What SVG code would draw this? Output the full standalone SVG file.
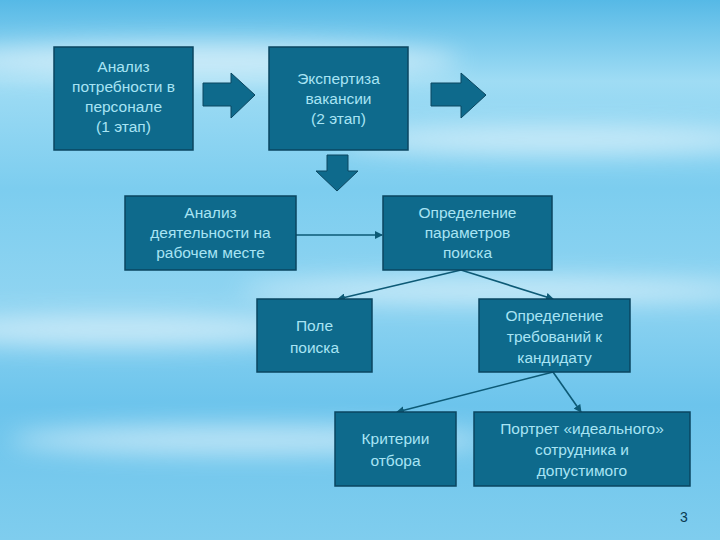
<svg xmlns="http://www.w3.org/2000/svg" width="720" height="540" viewBox="0 0 720 540">
<defs>
<linearGradient id="bg" x1="0" y1="0" x2="0" y2="1">
<stop offset="0" stop-color="#56b9e6"/><stop offset="0.15" stop-color="#9fdcf4"/><stop offset="0.35" stop-color="#7ccdef"/><stop offset="0.55" stop-color="#8fd4f1"/><stop offset="0.75" stop-color="#6cc4ec"/><stop offset="1" stop-color="#7fcdee"/>
</linearGradient>
<filter id="blur"><feGaussianBlur stdDeviation="12"/></filter>
<marker id="ah" markerWidth="8" markerHeight="8" refX="7" refY="4" orient="auto" markerUnits="userSpaceOnUse"><path d="M0,0 L8,4 L0,8 Z" fill="#0d5a76"/></marker>
<style>
.box{fill:#0e6a8c;stroke:#0a4660;stroke-width:1.5}
.t{font-family:"Liberation Sans",Arial,sans-serif;font-size:15.5px;fill:#a8e4f4;text-anchor:middle}
.c{stroke:#0d5a76;stroke-width:1.6;fill:none;marker-end:url(#ah)}
.ba{fill:#0e6a8c;stroke:#0a4660;stroke-width:1}
</style>
</defs>
<rect width="720" height="540" fill="url(#bg)"/>
<g filter="url(#blur)" fill="#ffffff" opacity="0.55">
<ellipse cx="200" cy="60" rx="260" ry="18"/>
<ellipse cx="560" cy="140" rx="220" ry="14"/>
<ellipse cx="120" cy="330" rx="200" ry="16"/>
<ellipse cx="500" cy="290" rx="260" ry="12"/>
<ellipse cx="250" cy="440" rx="240" ry="14"/>
</g>
<g id="connectors">
<line class="c" x1="296" y1="235" x2="382" y2="235"/>
<line class="c" x1="461" y1="270" x2="338" y2="299"/>
<line class="c" x1="461" y1="270" x2="553" y2="299"/>
<line class="c" x1="553" y1="372" x2="397" y2="412"/>
<line class="c" x1="553" y1="372" x2="581" y2="412"/>
<path class="ba" d="M203,83 H231 V73 L255,95 L231,118 V106 H203 Z"/>
<path class="ba" d="M431,83 H461 V73 L486,95 L461,118 V106 H431 Z"/>
<path class="ba" d="M327,155 H348 V171 H358 L337,191 L316,171 H327 Z"/>
</g>
<g id="n1"><rect class="box" x="54" y="47" width="139" height="103"/>
<text class="t" x="123.5" y="72">Анализ</text><text class="t" x="123.5" y="92">потребности в</text><text class="t" x="123.5" y="112">персонале</text><text class="t" x="123.5" y="132">(1 этап)</text></g>
<g id="n2"><rect class="box" x="269" y="47" width="139" height="103"/>
<text class="t" x="338.5" y="84">Экспертиза</text><text class="t" x="338.5" y="104">вакансии</text><text class="t" x="338.5" y="124">(2 этап)</text></g>
<g id="n3"><rect class="box" x="125" y="196" width="171" height="74"/>
<text class="t" x="210.5" y="218">Анализ</text><text class="t" x="210.5" y="238">деятельности на</text><text class="t" x="210.5" y="258">рабочем месте</text></g>
<g id="n4"><rect class="box" x="383" y="196" width="169" height="74"/>
<text class="t" x="467.5" y="218">Определение</text><text class="t" x="467.5" y="238">параметров</text><text class="t" x="467.5" y="258">поиска</text></g>
<g id="n5"><rect class="box" x="257" y="299" width="115" height="73"/>
<text class="t" x="314.5" y="331">Поле</text><text class="t" x="314.5" y="353">поиска</text></g>
<g id="n6"><rect class="box" x="479" y="299" width="151" height="73"/>
<text class="t" x="554.5" y="321">Определение</text><text class="t" x="554.5" y="342">требований к</text><text class="t" x="554.5" y="363">кандидату</text></g>
<g id="n7"><rect class="box" x="335" y="412" width="121" height="74"/>
<text class="t" x="395.5" y="444">Критерии</text><text class="t" x="395.5" y="466">отбора</text></g>
<g id="n8"><rect class="box" x="474" y="412" width="216" height="74"/>
<text class="t" x="582" y="434">Портрет «идеального»</text><text class="t" x="582" y="455">сотрудника и</text><text class="t" x="582" y="476">допустимого</text></g>
<text x="684" y="522" font-family="Liberation Sans,Arial,sans-serif" font-size="14" fill="#0a3a50" text-anchor="middle">3</text>
</svg>
